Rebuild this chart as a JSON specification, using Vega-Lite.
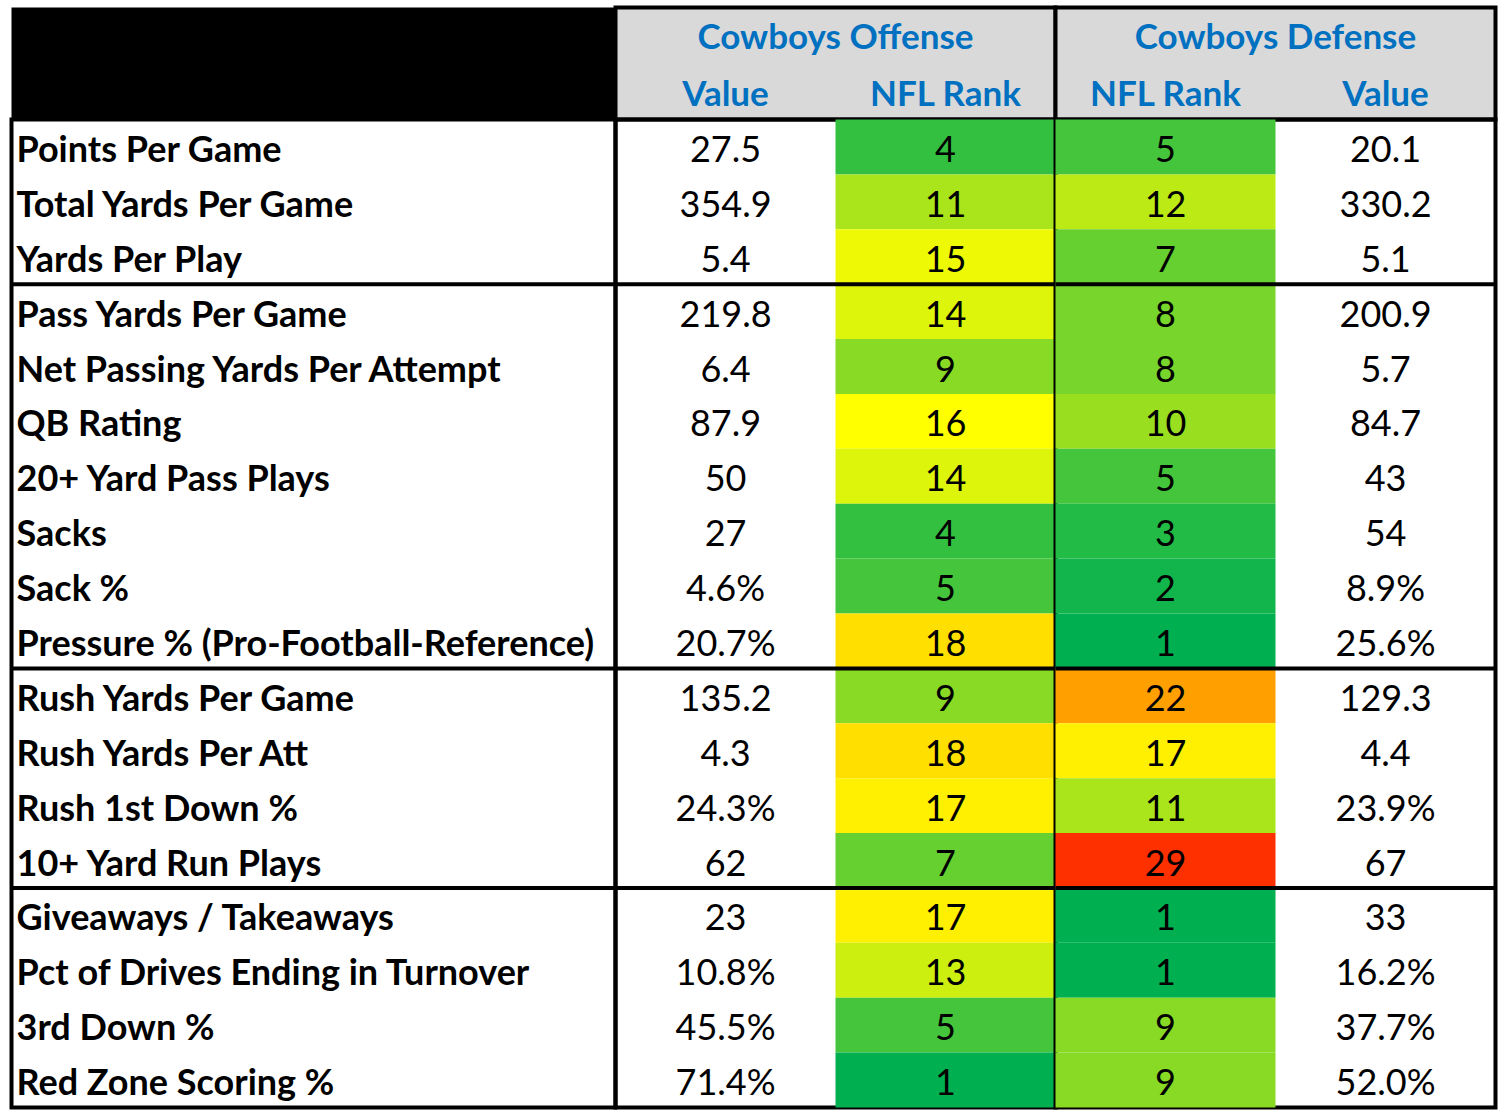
{
  "$schema": "https://vega.github.io/schema/vega-lite/v6.json",
  "background": "white",
  "padding": {"left": 7.5, "top": 5.5, "right": 8, "bottom": 8},
  "config": {
    "view": {"stroke": "black", "strokeWidth": 4},
    "text": {"font": "Lato", "fontSize": 36, "color": "black", "baseline": "middle"}
  },
  "datasets": {
    "stats": [
      {"stat": "Points Per Game", "ov": "27.5", "orank": 4, "drank": 5, "dv": "20.1"},
      {"stat": "Total Yards Per Game", "ov": "354.9", "orank": 11, "drank": 12, "dv": "330.2"},
      {"stat": "Yards Per Play", "ov": "5.4", "orank": 15, "drank": 7, "dv": "5.1"},
      {"stat": "Pass Yards Per Game", "ov": "219.8", "orank": 14, "drank": 8, "dv": "200.9"},
      {"stat": "Net Passing Yards Per Attempt", "ov": "6.4", "orank": 9, "drank": 8, "dv": "5.7"},
      {"stat": "QB Rating", "ov": "87.9", "orank": 16, "drank": 10, "dv": "84.7"},
      {"stat": "20+ Yard Pass Plays", "ov": "50", "orank": 14, "drank": 5, "dv": "43"},
      {"stat": "Sacks", "ov": "27", "orank": 4, "drank": 3, "dv": "54"},
      {"stat": "Sack %", "ov": "4.6%", "orank": 5, "drank": 2, "dv": "8.9%"},
      {"stat": "Pressure % (Pro-Football-Reference)", "ov": "20.7%", "orank": 18, "drank": 1, "dv": "25.6%"},
      {"stat": "Rush Yards Per Game", "ov": "135.2", "orank": 9, "drank": 22, "dv": "129.3"},
      {"stat": "Rush Yards Per Att", "ov": "4.3", "orank": 18, "drank": 17, "dv": "4.4"},
      {"stat": "Rush 1st Down %", "ov": "24.3%", "orank": 17, "drank": 11, "dv": "23.9%"},
      {"stat": "10+ Yard Run Plays", "ov": "62", "orank": 7, "drank": 29, "dv": "67"},
      {"stat": "Giveaways / Takeaways", "ov": "23", "orank": 17, "drank": 1, "dv": "33"},
      {"stat": "Pct of Drives Ending in Turnover", "ov": "10.8%", "orank": 13, "drank": 1, "dv": "16.2%"},
      {"stat": "3rd Down %", "ov": "45.5%", "orank": 5, "drank": 9, "dv": "37.7%"},
      {"stat": "Red Zone Scoring %", "ov": "71.4%", "orank": 1, "drank": 9, "dv": "52.0%"}
    ],
    "offhead": [{"col": "Value"}, {"col": "NFL Rank"}],
    "defhead": [{"col": "NFL Rank"}, {"col": "Value"}]
  },
  "columns": 3,
  "spacing": 0,
  "bounds": "flush",
  "concat": [
    {
      "width": 604, "height": 112,
      "view": {"fill": "black"},
      "data": {"values": [{"t": ""}]},
      "mark": "text",
      "encoding": {"text": {"field": "t"}}
    },
    {
      "width": 440, "height": 112,
      "view": {"fill": "#d9d9d9"},
      "layer": [
        {
          "data": {"name": "offhead"},
          "mark": {"type": "text", "fontWeight": "bold", "fontSize": 35, "color": "#0070c0", "dy": 3},
          "encoding": {
            "x": {"field": "col", "type": "nominal", "scale": {"type": "band", "domain": ["Value", "NFL Rank"], "paddingInner": 0, "paddingOuter": 0}, "axis": null},
            "y": {"datum": "sub", "type": "nominal", "scale": {"type": "band", "domain": ["title", "sub"], "paddingInner": 0, "paddingOuter": 0}, "axis": null},
            "text": {"field": "col"}
          }
        },
        {
          "data": {"values": [{"title": "Cowboys Offense"}]},
          "mark": {"type": "text", "fontWeight": "bold", "fontSize": 35, "color": "#0070c0", "dy": 2},
          "encoding": {
            "x": {"datum": "Value", "type": "nominal", "bandPosition": 1},
            "y": {"datum": "title", "type": "nominal"},
            "text": {"field": "title"}
          }
        }
      ]
    },
    {
      "width": 440, "height": 112,
      "view": {"fill": "#d9d9d9"},
      "layer": [
        {
          "data": {"name": "defhead"},
          "mark": {"type": "text", "fontWeight": "bold", "fontSize": 35, "color": "#0070c0", "dy": 3},
          "encoding": {
            "x": {"field": "col", "type": "nominal", "scale": {"type": "band", "domain": ["NFL Rank", "Value"], "paddingInner": 0, "paddingOuter": 0}, "axis": null},
            "y": {"datum": "sub", "type": "nominal", "scale": {"type": "band", "domain": ["title", "sub"], "paddingInner": 0, "paddingOuter": 0}, "axis": null},
            "text": {"field": "col"}
          }
        },
        {
          "data": {"values": [{"title": "Cowboys Defense"}]},
          "mark": {"type": "text", "fontWeight": "bold", "fontSize": 35, "color": "#0070c0", "dy": 2},
          "encoding": {
            "x": {"datum": "NFL Rank", "type": "nominal", "bandPosition": 1},
            "y": {"datum": "title", "type": "nominal"},
            "text": {"field": "title"}
          }
        }
      ]
    },
    {
      "width": 604, "height": 988,
      "data": {"name": "stats"},
      "layer": [
        {
          "mark": {"type": "text", "align": "left", "fontWeight": "bold", "dx": 5, "dy": 4},
          "encoding": {
            "x": {"datum": "label", "type": "nominal", "bandPosition": 0, "scale": {"type": "band", "domain": ["label"], "paddingInner": 0, "paddingOuter": 0}, "axis": null},
            "y": {"field": "stat", "type": "nominal", "sort": null, "scale": {"paddingInner": 0, "paddingOuter": 0}, "axis": null},
            "text": {"field": "stat"}
          }
        },
        {
          "transform": [{"filter": {"field": "stat", "oneOf": ["Pass Yards Per Game", "Rush Yards Per Game", "Giveaways / Takeaways"]}}],
          "mark": {"type": "rule", "color": "black", "strokeWidth": 4},
          "encoding": {
            "y": {"field": "stat", "type": "nominal", "sort": null, "bandPosition": 0}
          }
        }
      ]
    },
    {
      "width": 440, "height": 988,
      "data": {"name": "stats"},
      "layer": [
        {
          "mark": {"type": "rect"},
          "encoding": {
            "x": {"datum": "NFL Rank", "type": "nominal", "scale": {"type": "band", "domain": ["Value", "NFL Rank"], "paddingInner": 0, "paddingOuter": 0}, "axis": null},
            "y": {"field": "stat", "type": "nominal", "sort": null, "scale": {"paddingInner": 0, "paddingOuter": 0}, "axis": null},
            "color": {"field": "orank", "type": "quantitative", "scale": {"domain": [1, 16, 32], "range": ["#00b050", "#ffff00", "#ff0000"], "interpolate": "rgb"}, "legend": null}
          }
        },
        {
          "mark": {"type": "text", "dy": 4},
          "encoding": {
            "x": {"datum": "Value", "type": "nominal"},
            "y": {"field": "stat", "type": "nominal", "sort": null},
            "text": {"field": "ov"}
          }
        },
        {
          "mark": {"type": "text", "dy": 4},
          "encoding": {
            "x": {"datum": "NFL Rank", "type": "nominal"},
            "y": {"field": "stat", "type": "nominal", "sort": null},
            "text": {"field": "orank", "type": "quantitative", "format": "d"}
          }
        },
        {
          "transform": [{"filter": {"field": "stat", "oneOf": ["Pass Yards Per Game", "Rush Yards Per Game", "Giveaways / Takeaways"]}}],
          "mark": {"type": "rule", "color": "black", "strokeWidth": 4},
          "encoding": {
            "y": {"field": "stat", "type": "nominal", "sort": null, "bandPosition": 0}
          }
        }
      ]
    },
    {
      "width": 440, "height": 988,
      "data": {"name": "stats"},
      "layer": [
        {
          "mark": {"type": "rect"},
          "encoding": {
            "x": {"datum": "NFL Rank", "type": "nominal", "scale": {"type": "band", "domain": ["NFL Rank", "Value"], "paddingInner": 0, "paddingOuter": 0}, "axis": null},
            "y": {"field": "stat", "type": "nominal", "sort": null, "scale": {"paddingInner": 0, "paddingOuter": 0}, "axis": null},
            "color": {"field": "drank", "type": "quantitative", "scale": {"domain": [1, 16, 32], "range": ["#00b050", "#ffff00", "#ff0000"], "interpolate": "rgb"}, "legend": null}
          }
        },
        {
          "mark": {"type": "text", "dy": 4},
          "encoding": {
            "x": {"datum": "Value", "type": "nominal"},
            "y": {"field": "stat", "type": "nominal", "sort": null},
            "text": {"field": "dv"}
          }
        },
        {
          "mark": {"type": "text", "dy": 4},
          "encoding": {
            "x": {"datum": "NFL Rank", "type": "nominal"},
            "y": {"field": "stat", "type": "nominal", "sort": null},
            "text": {"field": "drank", "type": "quantitative", "format": "d"}
          }
        },
        {
          "transform": [{"filter": {"field": "stat", "oneOf": ["Pass Yards Per Game", "Rush Yards Per Game", "Giveaways / Takeaways"]}}],
          "mark": {"type": "rule", "color": "black", "strokeWidth": 4},
          "encoding": {
            "y": {"field": "stat", "type": "nominal", "sort": null, "bandPosition": 0}
          }
        }
      ]
    }
  ],
  "resolve": {"scale": {"color": "independent"}}
}
